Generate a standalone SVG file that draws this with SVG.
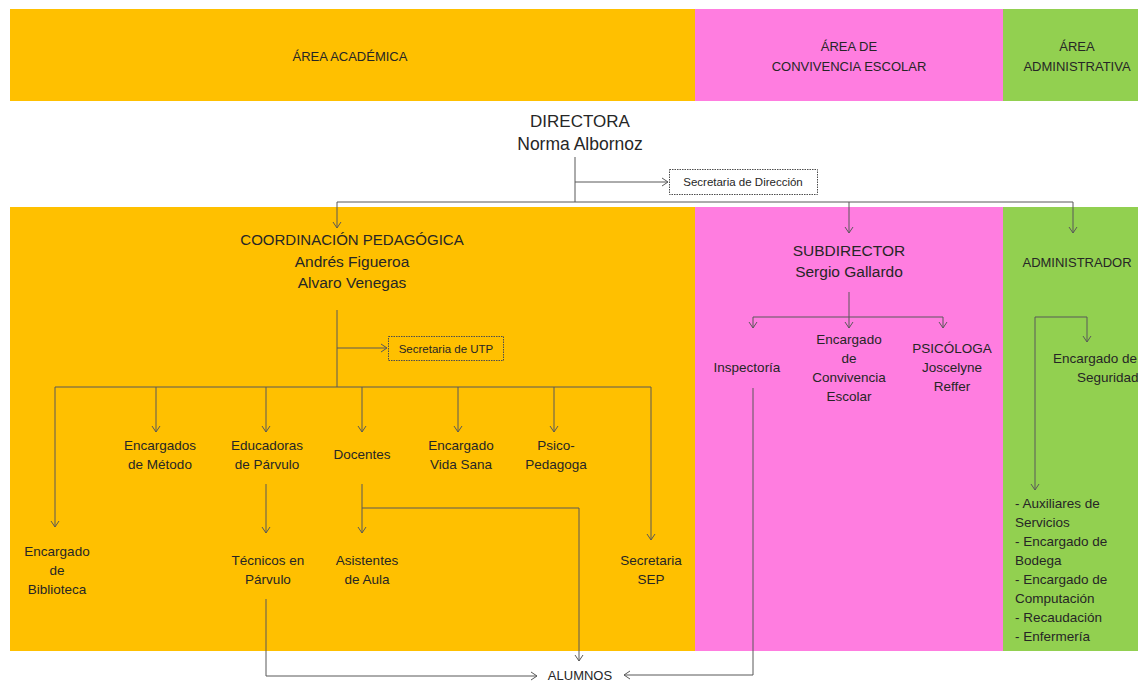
<svg xmlns="http://www.w3.org/2000/svg" width="1138" height="682" viewBox="0 0 1138 682">
<style>
text{font-family:"Liberation Sans",Arial,sans-serif;fill:#262626;text-anchor:middle}
.h{font-size:13px}
.b{font-size:13.5px}
.m{font-size:15.5px}
.l{font-size:17px}
.s{font-size:11.5px}
.ls{text-anchor:start}
.c{fill:none;stroke:#595959;stroke-width:1}
.box{fill:none;stroke:#4d4d4d;stroke-width:1;stroke-dasharray:1.5 1}
</style>
<defs>
<marker id="ar" viewBox="0 0 10 10" refX="8" refY="5" markerWidth="10" markerHeight="10" markerUnits="userSpaceOnUse" orient="auto">
<path d="M2,1 L8,5 L2,9" fill="none" stroke="#595959" stroke-width="1"/>
</marker>
</defs>
<rect width="1138" height="682" fill="#ffffff"/>
<g id="bands">
<rect x="10" y="9" width="685" height="92" fill="#FFC000"/>
<rect x="695" y="9" width="308" height="92" fill="#FF7DE0"/>
<rect x="1003" y="9" width="135" height="92" fill="#92D050"/>
<rect x="10" y="207" width="685" height="444" fill="#FFC000"/>
<rect x="695" y="207" width="308" height="444" fill="#FF7DE0"/>
<rect x="1003" y="207" width="135" height="444" fill="#92D050"/>
</g>
<g id="headers">
<text class="h" x="350" y="61">ÁREA ACADÉMICA</text>
<text class="h" x="849" y="51">ÁREA DE</text>
<text class="h" x="849" y="71">CONVIVENCIA ESCOLAR</text>
<text class="h" x="1077" y="51">ÁREA</text>
<text class="h" x="1077" y="71">ADMINISTRATIVA</text>
</g>
<g id="connectors">
<path class="c" d="M575,157 V202"/>
<path class="c" d="M575,182 H668" marker-end="url(#ar)"/>
<path class="c" d="M337,202 H1073"/>
<path class="c" d="M337,202 V228" marker-end="url(#ar)"/>
<path class="c" d="M849,202 V233" marker-end="url(#ar)"/>
<path class="c" d="M1073,202 V233" marker-end="url(#ar)"/>
<path class="c" d="M337,310 V387"/>
<path class="c" d="M337,348 H387" marker-end="url(#ar)"/>
<path class="c" d="M55,387 H651"/>
<path class="c" d="M55,387 V527" marker-end="url(#ar)"/>
<path class="c" d="M156,387 V432" marker-end="url(#ar)"/>
<path class="c" d="M266,387 V432" marker-end="url(#ar)"/>
<path class="c" d="M362,387 V432" marker-end="url(#ar)"/>
<path class="c" d="M458,387 V432" marker-end="url(#ar)"/>
<path class="c" d="M554,387 V432" marker-end="url(#ar)"/>
<path class="c" d="M651,387 V540" marker-end="url(#ar)"/>
<path class="c" d="M266,484 V533" marker-end="url(#ar)"/>
<path class="c" d="M362,484 V533" marker-end="url(#ar)"/>
<path class="c" d="M362,508 H579 V661" marker-end="url(#ar)"/>
<path class="c" d="M266,599 V676 H537" marker-end="url(#ar)"/>
<path class="c" d="M849,292 V317"/>
<path class="c" d="M753,317 H943"/>
<path class="c" d="M753,317 V328" marker-end="url(#ar)"/>
<path class="c" d="M849,317 V328" marker-end="url(#ar)"/>
<path class="c" d="M943,317 V328" marker-end="url(#ar)"/>
<path class="c" d="M753,388 V675 H624" marker-end="url(#ar)"/>
<path class="c" d="M1035,317 H1087 V342" marker-end="url(#ar)"/>
<path class="c" d="M1035,317 V490" marker-end="url(#ar)"/>
</g>
<g id="directora">
<text class="l" x="580" y="127">DIRECTORA</text>
<text class="l" x="580" y="150" style="font-size:17.5px">Norma Albornoz</text>
</g>
<g id="secretaria-direccion">
<rect class="box" x="669.5" y="169.5" width="148" height="25"/>
<text class="s" x="743" y="186">Secretaria de Dirección</text>
</g>
<g id="coordinacion">
<text class="m" x="352" y="245" style="font-size:15px">COORDINACIÓN PEDAGÓGICA</text>
<text class="m" x="352" y="267">Andrés Figueroa</text>
<text class="m" x="352" y="288">Alvaro Venegas</text>
</g>
<g id="secretaria-utp">
<rect class="box" x="388.5" y="336.5" width="115" height="24"/>
<text class="s" x="446" y="353">Secretaria de UTP</text>
</g>
<g id="encargados-metodo">
<text class="b" x="160" y="450">Encargados</text>
<text class="b" x="160" y="469">de Método</text>
</g>
<g id="educadoras">
<text class="b" x="267" y="450">Educadoras</text>
<text class="b" x="267" y="469">de Párvulo</text>
</g>
<g id="docentes">
<text class="b" x="362" y="459">Docentes</text>
</g>
<g id="vida-sana">
<text class="b" x="461" y="450">Encargado</text>
<text class="b" x="461" y="469">Vida Sana</text>
</g>
<g id="psicopedagoga">
<text class="b" x="556" y="450">Psico-</text>
<text class="b" x="556" y="469">Pedagoga</text>
</g>
<g id="biblioteca">
<text class="b" x="57" y="556">Encargado</text>
<text class="b" x="57" y="575">de</text>
<text class="b" x="57" y="594">Biblioteca</text>
</g>
<g id="tecnicos">
<text class="b" x="268" y="565">Técnicos en</text>
<text class="b" x="268" y="584">Párvulo</text>
</g>
<g id="asistentes">
<text class="b" x="367" y="565">Asistentes</text>
<text class="b" x="367" y="584">de Aula</text>
</g>
<g id="secretaria-sep">
<text class="b" x="651" y="565">Secretaria</text>
<text class="b" x="651" y="584">SEP</text>
</g>
<g id="alumnos">
<text class="h" x="580" y="680">ALUMNOS</text>
</g>
<g id="subdirector">
<text class="m" x="849" y="256">SUBDIRECTOR</text>
<text class="m" x="849" y="277">Sergio Gallardo</text>
</g>
<g id="inspectoria">
<text class="b" x="747" y="372">Inspectoría</text>
</g>
<g id="convivencia">
<text class="b" x="849" y="344">Encargado</text>
<text class="b" x="849" y="363">de</text>
<text class="b" x="849" y="382">Convivencia</text>
<text class="b" x="849" y="401">Escolar</text>
</g>
<g id="psicologa">
<text class="b" x="952" y="353">PSICÓLOGA</text>
<text class="b" x="952" y="372">Joscelyne</text>
<text class="b" x="952" y="391">Reffer</text>
</g>
<g id="administrador">
<text class="h" x="1077" y="267">ADMINISTRADOR</text>
</g>
<g id="seguridad">
<text class="b ls" x="1053" y="363">Encargado de</text>
<text class="b ls" x="1077" y="382">Seguridad</text>
</g>
<g id="servicios">
<text class="b ls" x="1015" y="508">- Auxiliares  de</text>
<text class="b ls" x="1015" y="527">Servicios</text>
<text class="b ls" x="1015" y="546">- Encargado de</text>
<text class="b ls" x="1015" y="565">Bodega</text>
<text class="b ls" x="1015" y="584">- Encargado de</text>
<text class="b ls" x="1015" y="603">Computación</text>
<text class="b ls" x="1015" y="622">- Recaudación</text>
<text class="b ls" x="1015" y="641">- Enfermería</text>
</g>
</svg>
